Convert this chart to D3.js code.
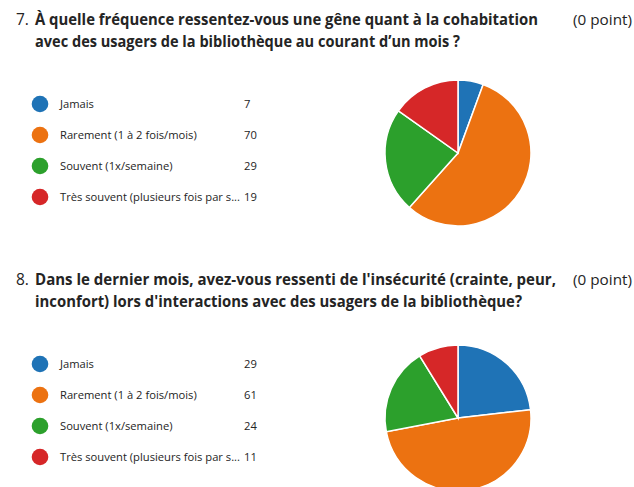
<!DOCTYPE html>
<html><head><meta charset="utf-8">
<script src="https://cdn.jsdelivr.net/npm/d3@7"></script>
<style>html,body{margin:0;padding:0;background:#fff;overflow:hidden}</style>
</head><body>
<svg id="chart" width="634" height="487"></svg>
<script>
const categories = ["Jamais", "Rarement (1 à 2 fois/mois)", "Souvent (1x/semaine)", "Très souvent (plusieurs fois par s..."];
const q7Values = [7, 70, 29, 19];
const q8Values = [29, 61, 24, 11];
const colors = ["#1f73b6", "#ec7211", "#2ca02c", "#d62728"];
const q7Title = ["À quelle fréquence ressentez-vous une gêne quant à la cohabitation", "avec des usagers de la bibliothèque au courant d’un mois ?"];
const q8Title = ["Dans le dernier mois, avez-vous ressenti de l'insécurité (crainte, peur,", "inconfort) lors d'interactions avec des usagers de la bibliothèque?"];
const pointsLabel = "(0 point)";

const svg = d3.select("#chart");
const font = "'Open Sans', 'Noto Sans', sans-serif";
const textColor = "#242424";

function block(y0, num, titleLines, titleWidths, values, pieCy) {
  const g = svg.append("g").attr("transform", `translate(0,${y0})`);
  g.append("text").attr("x", 16).attr("y", 25).attr("font-family", font).attr("font-size", 15.5)
    .attr("fill", textColor).text(num + ".");
  titleLines.forEach((t, i) => {
    g.append("text").attr("x", 35).attr("y", 25 + i * 22).attr("font-family", font)
      .attr("font-size", 15.5).attr("font-weight", 700).attr("fill", textColor)
      .attr("textLength", titleWidths[i]).attr("lengthAdjust", "spacingAndGlyphs").text(t);
  });
  g.append("text").attr("x", 573).attr("y", 25).attr("font-family", font)
    .attr("font-size", 15).attr("fill", textColor).attr("textLength", 59)
    .attr("lengthAdjust", "spacingAndGlyphs").text(pointsLabel);

  const y = d3.scalePoint().domain(categories).range([104, 197]);
  const leg = g.selectAll("g.leg").data(categories).join("g").attr("class", "leg")
    .attr("transform", d => `translate(0,${y(d)})`);
  leg.append("circle").attr("cx", 40).attr("cy", 0).attr("r", 8.3).attr("fill", (d, i) => colors[i]);
  leg.append("text").attr("x", 60).attr("y", 4.2).attr("font-family", font).attr("font-size", 11.2)
    .attr("fill", textColor).text(d => d);
  leg.append("text").attr("x", 244).attr("y", 4.2).attr("font-family", font).attr("font-size", 11.2)
    .attr("fill", textColor).text((d, i) => values[i]);

  const pie = d3.pie().sort(null).value(d => d);
  const arc = d3.arc().innerRadius(0).outerRadius(73);
  const pg = g.append("g").attr("transform", `translate(458,${pieCy})`);
  pg.selectAll("path").data(pie(values)).join("path").attr("d", arc)
    .attr("fill", (d, i) => colors[i]).attr("stroke", "#fff").attr("stroke-width", 1.5);
}

block(0, 7, q7Title, [503, 425], q7Values, 153);
block(260, 8, q8Title, [521, 487], q8Values, 158);
</script>
</body></html>
